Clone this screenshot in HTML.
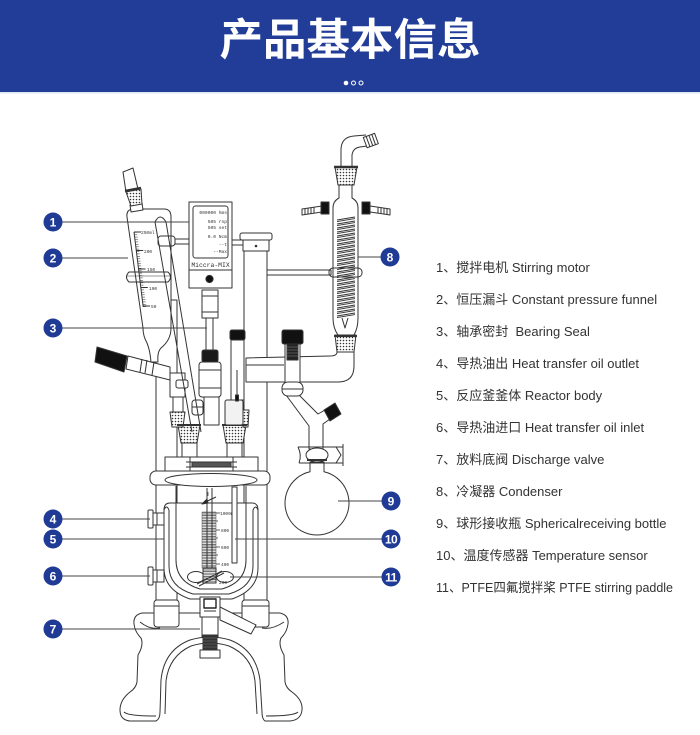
<!DOCTYPE html>
<html><head><meta charset="utf-8"><style>
html,body{margin:0;padding:0;width:700px;height:735px;overflow:hidden;background:#fff}
svg{display:block}
.lg{font-family:"Liberation Sans","Noto Sans CJK SC",sans-serif;font-size:13px;fill:#333;white-space:pre}
.bd{font-family:"Liberation Sans",sans-serif;font-size:12px;font-weight:bold;fill:#fff}
.mono{font-family:"Liberation Mono",monospace;fill:#333;stroke:none}
</style></head><body>
<svg width="700" height="735" viewBox="0 0 700 735" xmlns="http://www.w3.org/2000/svg">
<defs>
<pattern id="dots" width="3" height="3" patternUnits="userSpaceOnUse"><rect width="3" height="3" fill="#fff"/><circle cx="1.5" cy="1.5" r="0.8" fill="#333"/></pattern>
<pattern id="hatch" width="4" height="1.6" patternUnits="userSpaceOnUse"><rect width="4" height="1.6" fill="#fff"/><rect width="4" height="0.8" fill="#555"/></pattern>
<pattern id="ticks" width="4" height="2.4" patternUnits="userSpaceOnUse"><rect width="4" height="2.4" fill="none"/><rect width="3" height="0.6" fill="#444"/></pattern>
</defs>

<!-- header -->
<rect x="0" y="0" width="700" height="92" fill="#223d98"/>
<rect x="0" y="92" width="700" height="1.5" fill="#dfe5f2"/>
<text x="350" y="55" text-anchor="middle" font-family="'Noto Sans CJK SC',sans-serif" font-weight="bold" font-size="43.5" fill="#fff">产品基本信息</text>
<circle cx="346" cy="83" r="2.3" fill="#fff"/>
<circle cx="353.5" cy="83" r="2" fill="none" stroke="#fff" stroke-width="1"/>
<circle cx="361" cy="83" r="2" fill="none" stroke="#fff" stroke-width="1"/>

<g fill="#fff" stroke="#333" stroke-width="1" stroke-linejoin="round">
<!-- frame rods -->
<rect x="156" y="300" width="21" height="305"/>
<rect x="244" y="250" width="23" height="355"/>

<!-- base -->
<path d="M142 613 L280 613 Q289 615 288 624 Q287 632 281 638 Q278 645 284 655 L285 682 Q286 688 292 692 Q303 700 302 710 Q301 720 290 721 L265 721 Q262 719 262 712 L260 680 Q256 650 230 640 Q210 634 190 640 Q164 650 161 680 L160 712 Q160 719 156 721 L130 721 Q120 720 120 710 Q120 700 130 692 Q136 688 137 682 L138 655 Q144 645 141 638 Q135 632 134 624 Q133 615 142 613 Z"/>
<path fill="none" d="M165 714 L166 681 Q169 656 191 646 Q210 640 229 646 Q252 656 255 681 L257 714"/>
<path fill="none" d="M124 712 Q128 716 156 716 M266 716 Q294 716 298 712 M140 622 Q150 630 160 628 M262 628 Q272 630 284 622"/>
<rect x="154" y="600" width="25" height="27" rx="3"/>
<rect x="242" y="600" width="27" height="27" rx="3"/>
<line x1="154" y1="606" x2="179" y2="606"/>
<line x1="242" y1="606" x2="269" y2="606"/>

<!-- jacket & vessel -->
<path d="M164 510 Q164 503 170 503 L252 503 Q258 503 258 510 L258 568 Q258 590 232 599 L190 599 Q164 590 164 568 Z"/>
<path fill="none" d="M169 510 L169 566 Q169 587 193 594 L229 594 Q253 587 253 566 L253 510"/>
<path fill="none" d="M164 510 Q166.5 504 169 510 M253 510 Q255.5 504 258 510"/>
<path fill="none" d="M176 486 L176 560 Q176 582 200 589 L222 589 Q246 582 246 560 L246 486"/>
<!-- nozzles 4 & 6 -->
<rect x="152" y="513" width="12" height="12"/>
<rect x="148" y="510" width="5" height="18" rx="1"/>
<line x1="157" y1="513" x2="157" y2="525"/>
<rect x="152" y="570" width="12" height="12"/>
<rect x="148" y="567" width="5" height="18" rx="1"/>
<line x1="157" y1="570" x2="157" y2="582"/>

<!-- scale in vessel -->
<rect x="202" y="512" width="14" height="56" fill="url(#hatch)" stroke="#555" stroke-width="0.5"/>
<path fill="none" stroke-width="0.7" d="M216 513 L220 513 M216 530 L220 530 M216 547 L220 547 M216 564 L220 564 M216 521 L218 521 M216 538 L218 538 M216 555 L218 555"/>
<text class="mono" x="220" y="515" font-size="4.5">1000ml</text>
<text class="mono" x="221" y="532" font-size="4.5">800</text>
<text class="mono" x="221" y="549" font-size="4.5">600</text>
<text class="mono" x="221" y="566" font-size="4.5">400</text>
<path fill="none" d="M203 503 L216 497"/>
<path fill="#222" d="M202 504 L207 499 L208 503 Z"/>
<line x1="208" y1="492" x2="208" y2="496" stroke-width="0.7"/>
<!-- shaft in vessel -->
<path fill="none" d="M207 488 L207 568 M212 488 L212 568"/>
<!-- temp sensor in vessel -->
<rect x="232" y="487" width="5" height="76"/>
<!-- paddle -->
<ellipse cx="196" cy="577" rx="8.5" ry="5.5"/>
<ellipse cx="225" cy="577" rx="8.5" ry="5.5"/>
<rect x="203" y="568" width="13" height="15" fill="url(#hatch)"/>
<path fill="none" d="M197 584 L222 571 M199 586 L224 573"/>
<text class="mono" x="219" y="584" font-size="4.5">200</text>

<!-- bottom valve -->
<path d="M220 607 L256 625 L251 634 L220 620 Z"/>
<rect x="200" y="597" width="20" height="20"/>
<rect x="204" y="599" width="12" height="9" fill="none" stroke="#222" stroke-width="1.4"/>
<line x1="204" y1="611" x2="216" y2="611"/>
<rect x="202" y="617" width="16" height="20"/>
<rect x="203" y="635" width="14" height="15" fill="#333"/>
<path fill="none" stroke="#777" stroke-width="0.6" d="M203 638 L217 638 M203 641 L217 641 M203 644 L217 644 M203 647 L217 647"/>
<rect x="200" y="650" width="20" height="8"/>

<!-- lid -->
<rect x="150" y="471" width="120" height="14" rx="6"/>
<ellipse cx="211" cy="480" rx="46" ry="6.5"/>
<rect x="165" y="457" width="93" height="14"/>
<path fill="none" d="M190 457 L190 471 M233 457 L233 471 M186 462 L192 462 L192 467 L186 467 M237 462 L231 462 L231 467 L237 467"/>
<rect x="192" y="462" width="39" height="5" fill="#555"/>
<rect x="182" y="443" width="15" height="14"/>
<rect x="227" y="443" width="15" height="14"/>
<path d="M178 425 L200 425 L197 443 L181 443 Z" fill="url(#dots)"/>
<path d="M223 425 L246 425 L243 443 L226 443 Z" fill="url(#dots)"/>
<path d="M170 412 L185 412 L183 427 L172 427 Z" fill="url(#dots)"/>
<path d="M242 410 L249 410 L248 427 L243 427 Z" fill="url(#dots)"/>
<line x1="177" y1="425" x2="201" y2="425" stroke-width="2"/>
<line x1="222" y1="425" x2="247" y2="425" stroke-width="2"/>

<!-- central shaft & bearing -->
<rect x="204" y="397" width="15" height="28"/>
<rect x="206" y="318" width="7" height="32"/>
<rect x="202" y="290" width="16" height="28"/>
<path fill="none" d="M202 296 L218 296 M202 312 L218 312"/>
<rect x="202" y="350" width="16" height="12" rx="2" fill="#1a1a1a"/>
<rect x="199" y="362" width="22" height="35" rx="3"/>
<path fill="none" d="M199 370 L221 370 M199 388 L221 388"/>
<rect x="192" y="400" width="11" height="15" rx="3"/>
<line x1="192" y1="407" x2="203" y2="407"/>

<!-- left stopcock assembly -->
<path d="M128 356 L170 367 L170 380 L126 369 Z"/>
<path fill="none" d="M142 359 L140 372 M147 360 L145 373 M154 362 L152 375"/>
<path d="M97 347 L127 356 L124 372 L95 362 Z" fill="#111"/>
<rect x="170" y="373" width="15" height="24"/>
<rect x="176" y="380" width="12" height="8" rx="2"/>
<rect x="173" y="397" width="10" height="15"/>

<!-- thermometer upper -->
<rect x="231" y="339" width="13" height="61"/>
<rect x="230" y="330" width="15" height="10" rx="2" fill="#111"/>
<line x1="237" y1="370" x2="237" y2="400"/>
<rect x="225" y="400" width="18" height="25" rx="2" fill="#f2f2f2"/>
<rect x="235.5" y="395" width="3" height="6" fill="#111"/>

<!-- funnel -->
<path d="M127 217 Q126 209 134 209 L164 209 Q171 209 171 217 L171 328 Q171 340 161 348 Q157 352 158 362 L151 362 Q150 350 147 343 Q143 336 143 328 Z"/>
<path d="M130 205 L142 203 L143 210 L131 212 Z"/>
<path d="M126 192 L141 189 L142 204 L131 206 Z" fill="url(#dots)"/>
<path d="M123 172 L133 168 L138 189 L126 192 Z"/>
<line x1="125" y1="191" x2="141" y2="188" stroke-width="2.5"/>
<g transform="translate(134,232) skewX(7)">
<rect x="0" y="0" width="4" height="75" fill="url(#ticks)" stroke="none"/>
<line x1="0" y1="0" x2="0" y2="75"/>
<path fill="none" d="M0 0 L7 0 M0 18.5 L7 18.5 M0 37 L7 37 M0 55.5 L7 55.5 M0 74 L7 74"/>
</g>
<text class="mono" x="141" y="234" font-size="4.5">250ml</text>
<text class="mono" x="144" y="253" font-size="4.5">200</text>
<text class="mono" x="147" y="271" font-size="4.5">150</text>
<text class="mono" x="149" y="290" font-size="4.5">100</text>
<text class="mono" x="151" y="308" font-size="4.5">50</text>
<path fill="none" d="M129 272 L168 272 Q173 277 168 282 L129 282 Q124 277 129 272 Z"/>
<line x1="127" y1="276" x2="170" y2="276" stroke-width="0.6"/>
<!-- bypass tube -->
<path fill="none" d="M155 222 Q160 212 166 222 M155 222 L192 432 M166 222 L201 432"/>
<rect x="158" y="236" width="17" height="10" rx="3" fill="none"/>
<rect x="175" y="239" width="14" height="5"/>

<!-- motor -->
<rect x="189" y="202" width="43" height="86"/>
<rect x="193" y="206" width="35" height="52" rx="2.5"/>
<line x1="189" y1="270" x2="232" y2="270"/>
<text class="mono" x="227" y="214" font-size="4.6" text-anchor="end">000000 hms</text>
<text class="mono" x="227" y="223" font-size="4.6" text-anchor="end">505 rnp</text>
<text class="mono" x="227" y="229" font-size="4.6" text-anchor="end">505 set</text>
<text class="mono" x="227" y="238" font-size="4.6" text-anchor="end">0.0 Ncm</text>
<text class="mono" x="227" y="246" font-size="4.6" text-anchor="end">--t</text>
<text class="mono" x="227" y="253" font-size="4.6" text-anchor="end">--Max</text>
<text class="mono" x="210.5" y="267" font-size="6.4" text-anchor="middle">Miccra-MIX</text>
<circle cx="209.5" cy="279" r="3.6" fill="#111"/>
<rect x="232" y="240" width="12" height="5"/>

<!-- column top -->
<rect x="243" y="240" width="26" height="11"/>
<rect x="240" y="233" width="32" height="7" rx="2"/>
<circle cx="256" cy="246" r="0.8" fill="#333"/>
<rect x="267" y="270" width="64" height="5"/>

<!-- right arm / adapter -->
<path d="M246 358 L330 356 Q337 356 337 352 L354 352 L354 366 Q354 382 338 382 L246 382 Z"/>
<line x1="246" y1="365" x2="284" y2="365"/>
<rect x="285" y="343" width="15" height="40"/>
<rect x="287" y="344" width="11" height="16" fill="#222"/>
<path fill="none" stroke="#888" stroke-width="0.6" d="M287 347 L298 347 M287 350 L298 350 M287 353 L298 353 M287 356 L298 356"/>
<rect x="282" y="330" width="21" height="14" rx="2" fill="#111"/>
<!-- tube to flask -->
<path d="M286 395 L309 426 L309 449 L323 449 L323 424 L330 419 L325 410 L318 414 L299 395 Z"/>
<path d="M324 410 L335 403 L341 414 L330 421 Z" fill="#111"/>
<rect x="282" y="382" width="21" height="14" rx="6"/>
<line x1="282" y1="389" x2="303" y2="389"/>
<!-- flask -->
<path d="M310 462 L310 471.8 A32 32 0 1 0 324 471.8 L324 462 Z"/>
<ellipse cx="317" cy="455" rx="11" ry="7"/>
<line x1="307" y1="460" x2="327" y2="460" stroke-width="2"/>
<path fill="none" d="M298 447 L343 447 M299 463 L343 463 M298 447 Q302 455 299 463 M336 447 L341 455 L336 463 M343 444 L343 466"/>

<!-- condenser -->
<path fill="none" d="M341 167 L341 150 Q341 137 354 136 L366 135 M352 167 L352 155 Q353 148 360 147 L367 146"/>
<g transform="rotate(-20 371 141)">
<rect x="365" y="135" width="12" height="11"/>
<path fill="none" d="M368 135 L368 146 M371 135 L371 146 M374 135 L374 146"/>
</g>
<path d="M339 185 L339 198 Q333 201 333 208 L333 318 Q333 328 338 335 L354 335 Q358 328 358 318 L358 208 Q358 201 352 198 L352 185 Z"/>
<path d="M335 167 L357 167 L354 185 L338 185 Z" fill="url(#dots)"/>
<line x1="334" y1="167" x2="358" y2="167" stroke-width="2.5"/>
<path d="M335 335 L356 335 L354 352 L337 352 Z" fill="url(#dots)"/>
<line x1="334" y1="336" x2="357" y2="336" stroke-width="2"/>
<g fill="none" stroke-width="0.9">
<path id="coil" d="M337 220L355 217M337 224L355 221M337 228L355 225M337 232L355 229M337 236L355 233M337 240L355 237M337 244L355 241M337 248L355 245M337 252L355 249M337 256L355 253M337 260L355 257M337 264L355 261M337 268L355 265M337 272L355 269M337 276L355 273M337 280L355 277M337 284L355 281M337 288L355 285M337 292L355 289M337 296L355 293M337 300L355 297M337 304L355 301M337 308L355 305M337 312L355 309M337 316L355 313"/>
<use href="#coil" transform="translate(0,1.6)"/>
</g>
<path fill="none" d="M342 318 L345 328 L348 318"/>
<rect x="329" y="268" width="33" height="9" rx="4" fill="none"/>
<!-- side nozzles -->
<path d="M322 206 L302 209 L302 215 L322 212 Z"/>
<path fill="none" d="M305 208.5 L305 214.5 M308 208 L308 214 M311 207.5 L311 213.5 M314 207 L314 213"/>
<rect x="321" y="202" width="8" height="12" fill="#111"/>
<path d="M370 206 L390 209 L390 215 L370 212 Z"/>
<path fill="none" d="M387 208.5 L387 214.5 M384 208 L384 214 M381 207.5 L381 213.5 M378 207 L378 213"/>
<rect x="362" y="202" width="8" height="12" fill="#111"/>
</g>

<!-- leader lines -->
<g stroke="#444" stroke-width="1" fill="none">
<path d="M62 222 L189 222"/>
<path d="M62 258 L128 258"/>
<path d="M62 328 L207 328"/>
<path d="M62 519 L150 519"/>
<path d="M62 539 L164 539"/>
<path d="M62 576 L150 576"/>
<path d="M62 629 L200 629"/>
<path d="M381 257 L358 257"/>
<path d="M382 501 L338 501"/>
<path d="M382 539 L235 539"/>
<path d="M382 577 L230 577"/>
</g>

<!-- badges -->
<g fill="#1f3b95">
<circle cx="53" cy="222" r="9.5"/>
<circle cx="53" cy="258" r="9.5"/>
<circle cx="53" cy="328" r="9.5"/>
<circle cx="53" cy="519" r="9.5"/>
<circle cx="53" cy="539" r="9.5"/>
<circle cx="53" cy="576" r="9.5"/>
<circle cx="53" cy="629" r="9.5"/>
<circle cx="390" cy="257" r="9.5"/>
<circle cx="391" cy="501" r="9.5"/>
<circle cx="391" cy="539" r="9.5"/>
<circle cx="391" cy="577" r="9.5"/>
</g>
<g class="bd" text-anchor="middle">
<text class="bd" x="53" y="226.5">1</text>
<text class="bd" x="53" y="262.5">2</text>
<text class="bd" x="53" y="332.5">3</text>
<text class="bd" x="53" y="523.5">4</text>
<text class="bd" x="53" y="543.5">5</text>
<text class="bd" x="53" y="580.5">6</text>
<text class="bd" x="53" y="633.5">7</text>
<text class="bd" x="390" y="261.5">8</text>
<text class="bd" x="391" y="505.5">9</text>
<text class="bd" x="391" y="543.5" style="letter-spacing:-0.5px">10</text>
<text class="bd" x="391" y="581.5" style="letter-spacing:-0.5px">11</text>
</g>

<!-- legend -->
<text class="lg" x="436" y="272">1、搅拌电机 Stirring motor</text>
<text class="lg" x="436" y="304">2、恒压漏斗 Constant pressure funnel</text>
<text class="lg" x="436" y="336">3、轴承密封  Bearing Seal</text>
<text class="lg" x="436" y="368">4、导热油出 Heat transfer oil outlet</text>
<text class="lg" x="436" y="400">5、反应釜釜体 Reactor body</text>
<text class="lg" x="436" y="432">6、导热油进口 Heat transfer oil inlet</text>
<text class="lg" x="436" y="464">7、放料底阀 Discharge valve</text>
<text class="lg" x="436" y="496">8、冷凝器 Condenser</text>
<text class="lg" x="436" y="528">9、球形接收瓶 Sphericalreceiving bottle</text>
<text class="lg" x="436" y="560">10、温度传感器 Temperature sensor</text>
<text class="lg" x="436" y="592" textLength="237" lengthAdjust="spacingAndGlyphs">11、PTFE四氟搅拌桨 PTFE stirring paddle</text>
</svg>
</body></html>
